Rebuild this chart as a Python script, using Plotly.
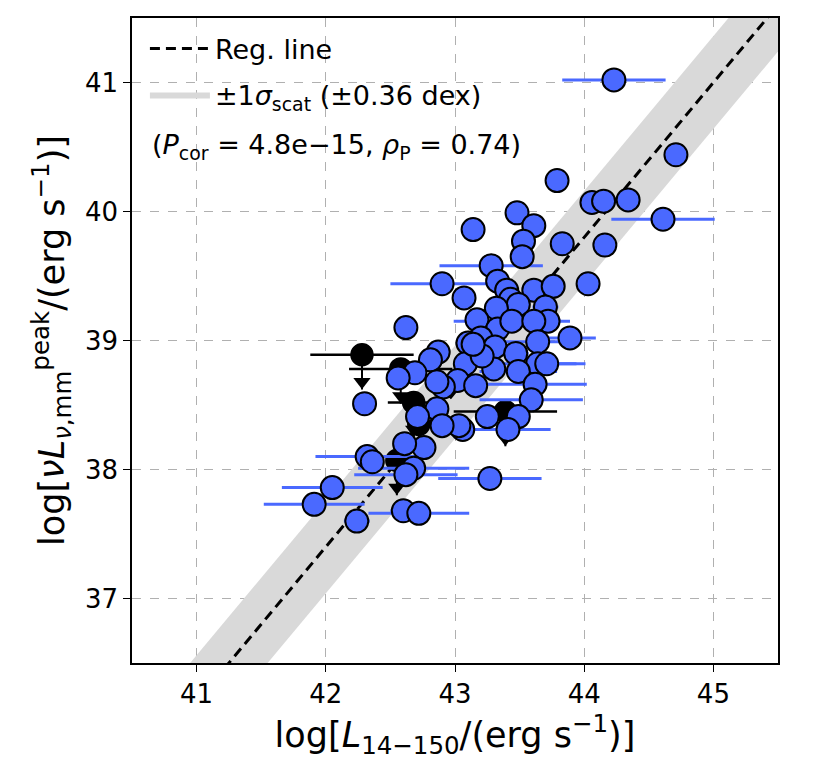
import plotly.graph_objects as go

# blue detections: log L(14-150 keV), log nuL_nu,mm peak, x error
det_x = [44.23, 44.71, 43.79, 44.06, 44.15, 44.34, 44.61, 43.83, 44.16, 43.48,
         43.61, 43.53, 43.52, 43.14, 43.28, 42.90, 43.07, 42.62, 43.33, 43.40,
         43.61, 43.76, 44.03, 43.43, 43.49, 43.70, 43.72, 43.32, 43.17, 43.33,
         43.44, 43.61, 43.89, 43.64, 43.20, 43.10, 42.87, 42.81, 43.08, 43.31,
         43.47, 43.64, 43.71, 43.30, 43.49, 42.69, 43.02, 43.16, 43.62, 42.91,
         43.59, 43.25, 43.49, 43.41, 43.06, 43.03, 42.86, 42.71, 42.90, 42.76,
         42.68, 42.62, 43.27, 43.21, 43.14, 42.56, 42.86, 42.61, 42.32, 42.36,
         42.05, 41.91, 42.24, 42.60, 42.72, 42.30]
det_y = [41.02, 40.44, 40.24, 40.07, 40.08, 40.09, 39.94, 39.75, 39.74, 39.99,
         39.89, 39.77, 39.65, 39.86, 39.58, 39.44, 39.33, 39.10, 39.46, 39.39,
         39.39, 39.42, 39.44, 39.32, 39.28, 39.26, 39.15, 39.25, 39.16, 39.09,
         39.15, 39.15, 39.02, 38.99, 39.02, 38.98, 38.91, 38.85, 38.82, 38.95,
         38.90, 38.82, 38.82, 38.78, 38.76, 38.75, 38.69, 38.65, 38.66, 38.64,
         38.54, 38.41, 38.41, 38.31, 38.31, 38.34, 38.47, 38.41, 38.34, 38.17,
         38.01, 37.96, 37.93, 38.88, 38.97, 38.71, 38.68, 38.20, 38.10, 38.06,
         37.86, 37.73, 37.60, 37.68, 37.66, 38.51]
det_xerr = [0.40, 0.05, 0.05, 0.05, 0.05, 0.05, 0.40, 0.05, 0.05, 0.05,
            0.05, 0.05, 0.05, 0.05, 0.40, 0.40, 0.05, 0.05, 0.05, 0.05,
            0.05, 0.05, 0.05, 0.05, 0.05, 0.10, 0.10, 0.05, 0.05, 0.05,
            0.45, 0.05, 0.20, 0.30, 0.05, 0.05, 0.05, 0.05, 0.05, 0.05,
            0.10, 0.30, 0.30, 0.05, 0.30, 0.05, 0.05, 0.05, 0.40, 0.05,
            0.40, 0.05, 0.05, 0.33, 0.05, 0.05, 0.05, 0.05, 0.05, 0.05,
            0.43, 0.40, 0.40, 0.05, 0.05, 0.05, 0.05, 0.05, 0.40, 0.05,
            0.39, 0.39, 0.10, 0.10, 0.39, 0.05]

# black upper limits
lim_x = [42.28, 42.58, 42.68, 43.39, 42.72, 42.55]
lim_y = [38.89, 38.78, 38.52, 38.45, 38.35, 38.07]
lim_xerr = [0.40, 0.40, 0.20, 0.40, 0.05, 0.05]
arrow_len = 0.27

# regression line and scatter
slope = 1.2
intercept = -13.0
sigma_scat = 0.36
x_range = [40.5, 45.5]
y_range = [36.5, 41.5]

blue = "#4a69ff"
font = "DejaVu Sans"

line_y = [slope * x + intercept for x in x_range]

fig = go.Figure()

# scatter band
band_x = x_range + x_range[::-1]
band_y = [v + sigma_scat for v in line_y] + [v - sigma_scat for v in line_y[::-1]]
fig.add_trace(go.Scatter(
    x=band_x, y=band_y, fill="toself", fillcolor="#d9d9d9",
    line=dict(width=0, color="#d9d9d9"), mode="lines", hoverinfo="skip",
    name="±1<i>σ</i><sub>scat</sub> (±0.36 dex)", legendgroup="b", legendrank=2,
))

fig.add_trace(go.Scatter(
    x=x_range, y=line_y, mode="lines",
    line=dict(color="black", dash="10px,6px", width=3),
    name="Reg. line", legendgroup="a", legendrank=1,
))

# upper limits: marker, error bar and arrow
fig.add_trace(go.Scatter(
    x=lim_x, y=lim_y, mode="markers",
    marker=dict(color="black", size=22, line=dict(color="black", width=1.5)),
    error_x=dict(type="data", array=lim_xerr, color="black", thickness=2.5, width=0),
    error_y=dict(type="data", symmetric=False, array=[0] * len(lim_y),
                 arrayminus=[arrow_len] * len(lim_y), color="black", thickness=2, width=0),
    showlegend=False,
))
fig.add_trace(go.Scatter(
    x=lim_x, y=[v - arrow_len + 0.06 for v in lim_y], mode="markers",
    marker=dict(color="black", size=15, symbol="triangle-down"),
    showlegend=False,
))

fig.add_trace(go.Scatter(
    x=det_x, y=det_y, mode="markers",
    marker=dict(color=blue, size=23, line=dict(color="black", width=2)),
    error_x=dict(type="data", array=det_xerr, color=blue, thickness=3, width=0),
    showlegend=False,
))

fig.add_annotation(
    x=0.028, y=0.80, xref="paper", yref="paper", xanchor="left", yanchor="middle",
    text="(<i>P</i><sub>cor</sub> = 4.8e−15, <i>ρ</i><sub>P</sub> = 0.74)",
    showarrow=False, font=dict(size=27, color="black", family=font),
)

axis_common = dict(
    showline=True, mirror=True, linecolor="black", linewidth=1.5,
    ticks="outside", ticklen=7, tickwidth=1.2, tickcolor="black",
    showgrid=True, gridcolor="#b0b0b0", griddash="dash", gridwidth=1,
    zeroline=False, tickfont=dict(size=26, color="black", family=font),
)

fig.update_xaxes(
    range=x_range, tickvals=[41, 42, 43, 44, 45],
    title=dict(text="log[<i>L</i><sub>14−150</sub>/(erg s<sup>−1</sup>)]",
               font=dict(size=35, color="black", family=font), standoff=6),
    **axis_common,
)
fig.update_yaxes(
    range=y_range, tickvals=[37, 38, 39, 40, 41],
    title=dict(text="log[<i>νL</i><sub><i>ν</i>,mm</sub><sup>peak</sup>/(erg s<sup>−1</sup>)]",
               font=dict(size=35, color="black", family=font), standoff=10),
    **axis_common,
)

fig.update_layout(
    width=817, height=770,
    margin=dict(l=124, r=47, t=8, b=115),
    plot_bgcolor="white", paper_bgcolor="white",
    font=dict(family=font, color="black"),
    legend=dict(x=0.02, y=0.99, xanchor="left", yanchor="top",
                bgcolor="rgba(0,0,0,0)", font=dict(size=27, family=font),
                tracegroupgap=8, itemwidth=60),
)

fig.write_html("out.html")
